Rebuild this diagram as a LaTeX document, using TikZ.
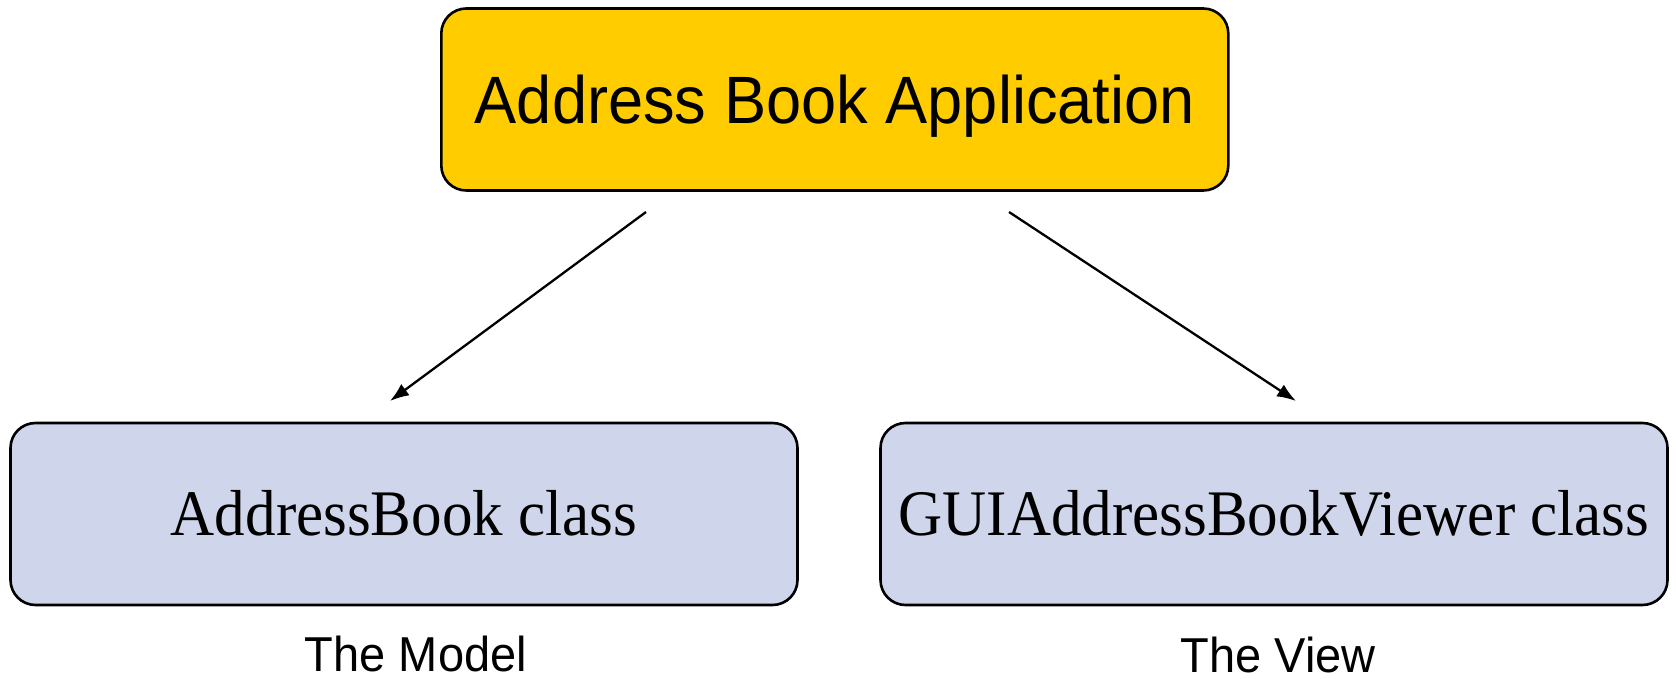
\documentclass[tikz,border=0pt]{standalone}
\usepackage{fontspec}
\setmainfont{Liberation Serif}
\newfontfamily\arialtitle[FakeStretch=0.943]{Liberation Sans}
\newfontfamily\arialcap[FakeStretch=0.959]{Liberation Sans}
\newfontfamily\serifnarrow[FakeStretch=0.939]{Liberation Serif}
\usetikzlibrary{arrows.meta}
\definecolor{appyellow}{HTML}{FFCC00}
\definecolor{classblue}{HTML}{CFD5EA}
\begin{document}
\begin{tikzpicture}[x=1pt,y=-1pt,
  boxbase/.style={draw=black, line width=2.6pt, rounded corners=25pt, inner sep=0pt},
  appbox/.style={boxbase, fill=appyellow, minimum width=787pt, minimum height=182pt,
    text height=48pt, text depth=0pt,
    font=\arialtitle\fontsize{67}{74}\selectfont},
  classbox/.style={boxbase, fill=classblue, minimum width=787pt, minimum height=182pt,
    text height=43pt, text depth=0pt,
    font=\serifnarrow\fontsize{65}{72}\selectfont},
  caption/.style={anchor=base, inner sep=0pt, font=\arialcap\fontsize{49}{54}\selectfont},
  link/.style={line width=2.3pt, -{Latex[length=19pt,width=14pt]}}
]
\useasboundingbox (0,0) rectangle (1676,679);
\node[appbox] (app) at (834.8,99.5) {Address Book Application};
\node[classbox] (model) at (404,514) {AddressBook class};
\node[classbox] (view) at (1274,514) {GUIAddressBookViewer class};
\node[caption] (modellbl) at (416,671) {The Model};
\node[caption] (viewlbl) at (1278,672) {The View};
\coordinate (ls) at (646,212);
\coordinate (le) at (390,401);
\coordinate (rs) at (1009,212);
\coordinate (re) at (1296,401);
\draw[link] (ls) -- (le);
\draw[link] (rs) -- (re);
\end{tikzpicture}
\end{document}
